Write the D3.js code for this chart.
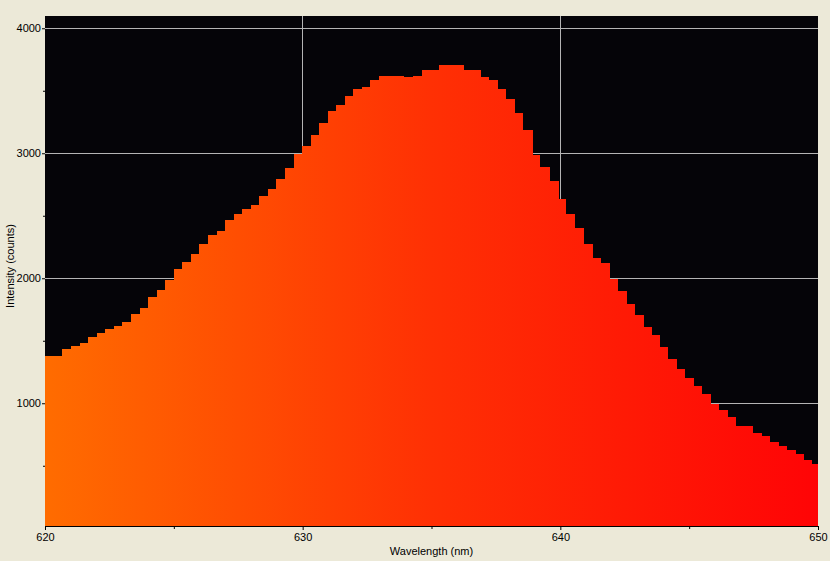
<!DOCTYPE html>
<html>
<head>
<meta charset="utf-8">
<script src="https://cdn.jsdelivr.net/npm/d3@7"></script>
<style>
  html, body { margin: 0; padding: 0; background: #ece9d8; }
  svg { display: block; }
  text { font-family: "Liberation Sans", Arial, sans-serif; font-size: 11px; fill: #000; }
</style>
</head>
<body>
<svg id="chart" width="830" height="561"></svg>
<script>
// ---- Data ----
const wavelengths = [
  620.00, 620.32, 620.65, 621.00, 621.35, 621.66, 622.01, 622.32, 622.67, 622.98,
  623.33, 623.68, 623.99, 624.34, 624.65, 625.00, 625.31, 625.66, 625.97, 626.32,
  626.67, 626.98, 627.33, 627.64, 627.99, 628.30, 628.65, 628.96, 629.31, 629.66,
  629.97, 630.32, 630.63, 630.98, 631.29, 631.64, 631.95, 632.30, 632.61, 632.96,
  633.29, 633.62, 633.93, 634.28, 634.63, 634.96, 635.29, 635.62, 635.95, 636.26,
  636.59, 636.92, 637.24, 637.59, 637.90, 638.26, 638.57, 638.92, 639.23, 639.58,
  639.93, 640.23, 640.58, 640.90, 641.25, 641.56, 641.91, 642.22, 642.57, 642.88,
  643.23, 643.54, 643.88, 644.19, 644.54, 644.85, 645.20, 645.51, 645.86, 646.17,
  646.52, 646.83, 647.16, 647.49, 647.84, 648.15, 648.50, 648.81, 649.16, 649.46,
  649.77
];
const intensities = [
  1378, 1378, 1434, 1458, 1482, 1530, 1562, 1594, 1618, 1650,
  1714, 1762, 1850, 1906, 1986, 2074, 2130, 2194, 2274, 2346,
  2378, 2466, 2514, 2554, 2586, 2658, 2714, 2794, 2882, 2994,
  3058, 3146, 3242, 3338, 3386, 3458, 3514, 3530, 3586, 3618,
  3618, 3618, 3610, 3618, 3666, 3666, 3706, 3706, 3706, 3666,
  3666, 3610, 3586, 3514, 3434, 3322, 3186, 2986, 2890, 2778,
  2634, 2514, 2402, 2274, 2162, 2122, 1994, 1898, 1794, 1706,
  1610, 1546, 1450, 1354, 1274, 1202, 1138, 1074, 994, 946,
  890, 818, 818, 762, 738, 690, 658, 626, 594, 546,
  514
];
const lastBinEnd = 650.10;
const xMajorTicks = [620, 630, 640, 650];
const xMinorTicks = [625, 635, 645];
const yMajorTicks = [1000, 2000, 3000, 4000];
const yMinorTicks = [500, 1500, 2500, 3500];
const xDomain = [620, 650];
const yDomain = [18, 4098];
const xTitle = "Wavelength (nm)";
const yTitle = "Intensity (counts)";

// ---- Layout ----
const plot = { left: 45, top: 16, right: 818, bottom: 526 };
const svg = d3.select("#chart");

const x = d3.scaleLinear().domain(xDomain).range([plot.left, plot.right]);
const y = d3.scaleLinear().domain(yDomain).range([plot.bottom, plot.top]);

const defs = svg.append("defs");
defs.append("clipPath").attr("id", "clip")
  .append("rect")
  .attr("x", plot.left).attr("y", plot.top)
  .attr("width", plot.right - plot.left).attr("height", plot.bottom - plot.top);

const grad = defs.append("linearGradient").attr("id", "fillGrad")
  .attr("gradientUnits", "userSpaceOnUse")
  .attr("x1", plot.left).attr("y1", 0).attr("x2", plot.right).attr("y2", 0);
grad.append("stop").attr("offset", "0%").attr("stop-color", "#ff6c00");
grad.append("stop").attr("offset", "50%").attr("stop-color", "#ff3004");
grad.append("stop").attr("offset", "100%").attr("stop-color", "#ff0406");

// plot background
svg.append("rect")
  .attr("x", plot.left).attr("y", plot.top)
  .attr("width", plot.right - plot.left).attr("height", plot.bottom - plot.top)
  .attr("fill", "#050408");

// gridlines
const grid = svg.append("g").attr("clip-path", "url(#clip)");
grid.selectAll("line.h").data(yMajorTicks).enter().append("line")
  .attr("x1", plot.left).attr("x2", plot.right)
  .attr("y1", d => Math.floor(y(d)) + 0.5).attr("y2", d => Math.floor(y(d)) + 0.5)
  .attr("stroke", "#b4b4b4").attr("stroke-width", 1);
grid.selectAll("line.v").data([630, 640]).enter().append("line")
  .attr("y1", plot.top).attr("y2", plot.bottom)
  .attr("x1", d => Math.floor(x(d)) + 0.5).attr("x2", d => Math.floor(x(d)) + 0.5)
  .attr("stroke", "#b4b4b4").attr("stroke-width", 1);

// stepped area
const pts = wavelengths.map((w, i) => ({ w, v: intensities[i] }));
pts.push({ w: lastBinEnd, v: intensities[intensities.length - 1] });
const area = d3.area()
  .x(d => x(d.w))
  .y0(plot.bottom)
  .y1(d => Math.round(y(d.v)))
  .curve(d3.curveStepAfter);
svg.append("path")
  .datum(pts)
  .attr("clip-path", "url(#clip)")
  .attr("d", area)
  .attr("fill", "url(#fillGrad)")
  .attr("shape-rendering", "crispEdges");

// bottom axis
const xAxis = d3.axisBottom(x).tickValues(xMajorTicks).tickSize(4).tickPadding(3).tickFormat(d3.format("d"));
const gx = svg.append("g").attr("transform", `translate(0,${plot.bottom})`).call(xAxis);
gx.select(".domain").attr("stroke", "#000").attr("d", `M${plot.left},0.5H${plot.right}`);
gx.selectAll(".tick line").attr("stroke", "#000");
gx.selectAll(".tick text").attr("font-family", "Liberation Sans, Arial, sans-serif").attr("font-size", 11).attr("fill", "#000").attr("dy", "0.71em");
const xMinor = d3.axisBottom(x).tickValues(xMinorTicks).tickSize(3).tickFormat("");
const gxm = svg.append("g").attr("transform", `translate(0,${plot.bottom})`).call(xMinor);
gxm.select(".domain").remove();
gxm.selectAll(".tick line").attr("stroke", "#000");

// left axis
const yAxis = d3.axisLeft(y).tickValues(yMajorTicks).tickSize(3).tickPadding(1).tickFormat(d3.format("d"));
const gy = svg.append("g").attr("transform", `translate(${plot.left},0)`).call(yAxis);
gy.select(".domain").remove();
gy.selectAll(".tick line").attr("stroke", "#000");
gy.selectAll(".tick text").attr("font-family", "Liberation Sans, Arial, sans-serif").attr("font-size", 11).attr("fill", "#000");
const yMinor = d3.axisLeft(y).tickValues(yMinorTicks).tickSize(2).tickFormat("");
const gym = svg.append("g").attr("transform", `translate(${plot.left},0)`).call(yMinor);
gym.select(".domain").remove();
gym.selectAll(".tick line").attr("stroke", "#000");

// titles
svg.append("text")
  .attr("x", (plot.left + plot.right) / 2).attr("y", 555)
  .attr("text-anchor", "middle")
  .text(xTitle);
svg.append("text")
  .attr("transform", `translate(14,266) rotate(-90)`)
  .attr("text-anchor", "middle")
  .text(yTitle);
</script>
</body>
</html>
